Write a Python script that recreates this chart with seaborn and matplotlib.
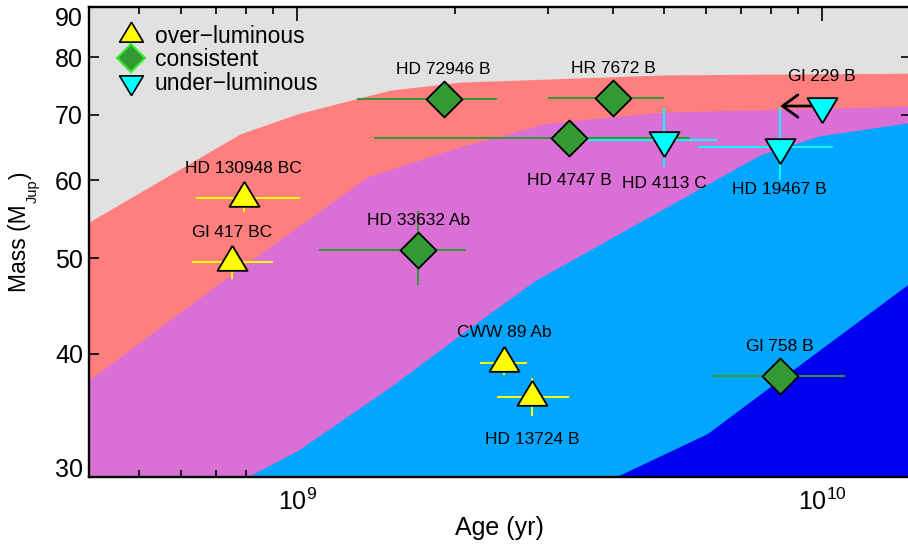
import numpy as np
import pandas as pd
import matplotlib
matplotlib.use("Agg")
import matplotlib.pyplot as plt
import seaborn as sns
from matplotlib.lines import Line2D
from matplotlib.transforms import IdentityTransform
from matplotlib.ticker import FixedLocator, NullLocator, NullFormatter, LogLocator, FixedFormatter

# ---------------- data ----------------
# region boundaries (age in yr, mass in M_Jup)
gray_red_age = [4.0e8, 7.78e8, 1.0e9, 1.5e9, 2.04e9, 5.07e9, 1.5e10]
gray_red_mass = [54.4, 66.9, 70.1, 74.1, 75.5, 76.8, 77.1]
red_violet_age = [4.0e8, 7.45e8, 1.36e9, 2.04e9, 2.99e9, 4.98e9, 1.5e10]
red_violet_mass = [37.6, 48.1, 60.5, 64.9, 68.6, 70.4, 71.4]
violet_blue_age = [8.03e8, 1.0e9, 1.5e9, 2.04e9, 2.84e9, 7.62e9, 9.9e9, 1.5e10]
violet_blue_mass = [30.0, 31.9, 37.0, 41.8, 47.5, 63.7, 66.6, 68.8]
blue_dark_age = [4.04e9, 6.04e9, 8.43e9, 1.5e10]
blue_dark_mass = [30.0, 33.2, 37.9, 47.6]

# over-luminous objects
over_names = ["HD 130948 BC", "Gl 417 BC", "CWW 89 Ab", "HD 13724 B"]
over_age = [7.9e8, 7.5e8, 2.48e9, 2.80e9]
over_age_lo = [6.4e8, 6.3e8, 2.23e9, 2.40e9]
over_age_hi = [1.01e9, 9.0e8, 2.74e9, 3.30e9]
over_mass = [57.6, 49.6, 39.2, 36.2]
over_mass_err = [1.9, 1.9, 1.1, 1.6]

# consistent objects
cons_names = ["HD 72946 B", "HR 7672 B", "HD 4747 B", "HD 33632 Ab", "Gl 758 B"]
cons_age = [1.90e9, 4.0e9, 3.3e9, 1.70e9, 8.3e9]
cons_age_lo = [1.30e9, 3.0e9, 1.40e9, 1.10e9, 6.2e9]
cons_age_hi = [2.40e9, 5.0e9, 5.6e9, 2.10e9, 1.107e10]
cons_mass = [72.6, 72.7, 66.3, 51.0, 38.0]
cons_mass_lo = [71.6, 71.9, 65.5, 47.0, 37.2]
cons_mass_hi = [73.6, 73.5, 67.1, 55.9, 38.8]

# under-luminous objects
under_names = ["HD 4113 C", "HD 19467 B", "Gl 229 B"]
under_age = [5.0e9, 8.3e9, 1.0e10]
under_age_lo = [3.31e9, 5.8e9, 1.0e10]
under_age_hi = [6.3e9, 1.05e10, 1.0e10]
under_mass = [65.9, 64.9, 71.4]
under_mass_lo = [61.9, 60.1, 71.4]
under_mass_hi = [71.1, 71.1, 71.4]
upper_limit_age = 8.32e9   # arrow tip for Gl 229 B

y_ticks = [30, 40, 50, 60, 70, 80, 90]

# ---------------- style ----------------
sns.set_theme(style="ticks")
plt.rcParams["font.family"] = ["Liberation Sans", "DejaVu Sans"]
plt.rcParams["mathtext.fontset"] = "custom"
plt.rcParams["mathtext.rm"] = "Liberation Sans"
plt.rcParams["mathtext.it"] = "Liberation Sans:italic"
plt.rcParams["mathtext.bf"] = "Liberation Sans:bold"
plt.rcParams["text.color"] = "black"
plt.rcParams["axes.labelcolor"] = "black"
plt.rcParams["xtick.color"] = "black"
plt.rcParams["ytick.color"] = "black"

c_gray = "#e1e1e1"
c_red = "#ff7f7f"
c_violet = "#da70d6"
c_lblue = "#00a6ff"
c_dblue = "#0000f0"
c_yellow = "#ffff00"
c_green = "#339933"
c_cyan = "#00ffff"

up_tri = [(0, 1), (-0.9, -0.5), (0.9, -0.5), (0, 1)]
down_tri = [(0, -1), (-0.9, 0.5), (0.9, 0.5), (0, -1)]

fig = plt.figure(figsize=(9.08, 5.44), dpi=100)
ax = fig.add_axes([88.5 / 908, 67 / 544, (911 - 88.5) / 908, 470 / 544])
ax.set_facecolor(c_gray)
ax.set_xscale("log")
ax.set_yscale("log")
ax.set_axisbelow(False)

# regions
ax.fill_between(gray_red_age, gray_red_mass, 30, color=c_red, lw=0, zorder=1)
ax.fill_between(red_violet_age, red_violet_mass, 30, color=c_violet, lw=0, zorder=2)
ax.fill_between(violet_blue_age, violet_blue_mass, 30, color=c_lblue, lw=0, zorder=3)
ax.fill_between(blue_dark_age, blue_dark_mass, 30, color=c_dblue, lw=0, zorder=4)

# error bars
def err(v, lo, hi):
    v, lo, hi = map(np.asarray, (v, lo, hi))
    return [v - lo, hi - v]

oe = np.asarray(over_mass_err)
ax.errorbar(over_age, over_mass, xerr=err(over_age, over_age_lo, over_age_hi),
            yerr=[oe, oe], fmt="none", ecolor=c_yellow, elinewidth=1.4, capsize=0, zorder=6)
ax.errorbar(cons_age, cons_mass, xerr=err(cons_age, cons_age_lo, cons_age_hi),
            yerr=err(cons_mass, cons_mass_lo, cons_mass_hi), fmt="none",
            ecolor=c_green, elinewidth=1.4, capsize=0, zorder=6)
ax.errorbar(under_age[:2], under_mass[:2],
            xerr=err(under_age[:2], under_age_lo[:2], under_age_hi[:2]),
            yerr=err(under_mass[:2], under_mass_lo[:2], under_mass_hi[:2]), fmt="none",
            ecolor=c_cyan, elinewidth=1.4, capsize=0, zorder=6)

# upper-limit arrow for Gl 229 B
ax.annotate("", xy=(upper_limit_age, under_mass[2]), xytext=(under_age[2], under_mass[2]),
            arrowprops=dict(arrowstyle="->,head_length=0.55,head_width=0.4", lw=2.0,
                            color="black", shrinkA=0, shrinkB=0, mutation_scale=20),
            zorder=7)

# markers
df_over = pd.DataFrame({"age": over_age, "mass": over_mass})
df_cons = pd.DataFrame({"age": cons_age, "mass": cons_mass})
df_under = pd.DataFrame({"age": under_age, "mass": under_mass})
sns.scatterplot(data=df_over, x="age", y="mass", marker=up_tri, s=24 ** 2, color=c_yellow,
                edgecolor="black", linewidth=1.3, ax=ax, zorder=10, legend=False)
sns.scatterplot(data=df_cons, x="age", y="mass", marker="D", s=18.3 ** 2, color=c_green,
                edgecolor="black", linewidth=1.3, ax=ax, zorder=10, legend=False)
sns.scatterplot(data=df_under, x="age", y="mass", marker=down_tri, s=24 ** 2, color=c_cyan,
                edgecolor="black", linewidth=1.3, ax=ax, zorder=10, legend=False)

# labels
below = {"HD 13724 B", "HD 4747 B", "HD 4113 C", "HD 19467 B"}
for names, ages, masses in [(over_names, over_age, over_mass),
                            (cons_names, cons_age, cons_mass),
                            (under_names, under_age, under_mass)]:
    for n, a, m in zip(names, ages, masses):
        dy = -31 if n in below else 21.5
        ax.annotate(n, (a, m), xytext=(0, dy), textcoords="offset points",
                    ha="center", va="center", fontsize=12.5, color="black", zorder=11)

# axes
ax.set_xlim(4.0e8, 1.477e10)
ax.set_ylim(30, 90)
ax.yaxis.set_major_locator(FixedLocator(y_ticks))
ax.yaxis.set_major_formatter(FixedFormatter([str(t) for t in y_ticks]))
ax.yaxis.set_minor_locator(NullLocator())
ax.xaxis.set_major_locator(LogLocator(base=10))
ax.xaxis.set_major_formatter(matplotlib.ticker.FuncFormatter(
    lambda v, p: r"$10^{%d}$" % round(np.log10(v))))
ax.xaxis.set_minor_locator(LogLocator(base=10, subs=np.arange(2, 10)))
ax.xaxis.set_minor_formatter(NullFormatter())
ax.tick_params(axis="both", which="both", direction="in", top=True, right=True,
               colors="black", labelcolor="black", width=1.2, labelsize=18)
ax.tick_params(axis="x", which="major", length=10, pad=8)
ax.tick_params(axis="x", which="minor", length=5)
ax.tick_params(axis="y", which="major", length=7, pad=4)
for s in ax.spines.values():
    s.set_linewidth(1.7)
    s.set_color("black")
    s.set_zorder(12)

ax.set_xlabel("Age (yr)", fontsize=18, labelpad=1, color="black")
ax.set_ylabel("")

# legend
handles = [
    Line2D([], [], marker=up_tri, ls="none", ms=19, mfc=c_yellow, mec="black", mew=1.2),
    Line2D([], [], marker="D", ls="none", ms=14, mfc=c_green, mec="#33ee33", mew=1.5),
    Line2D([], [], marker=down_tri, ls="none", ms=19, mfc=c_cyan, mec="black", mew=1.2),
]
labels = ["over\u2212luminous", "consistent", "under\u2212luminous"]
leg = ax.legend(handles, labels, loc="upper left", bbox_to_anchor=(0.0235, 0.982),
                borderaxespad=0, frameon=False, fontsize=16.5, handlelength=1.2,
                handletextpad=0.45, labelspacing=0.02, labelcolor="black")
leg.set_zorder(13)

# y-axis label built from pieces (rotated), with a small subscript
H = 544
ident = IdentityTransform()
t1 = fig.text(20, H - 292, "Mass (M", rotation=90, ha="center", va="bottom",
              fontsize=16.5, color="black", transform=ident)
fig.canvas.draw()
top1 = t1.get_window_extent().y1
t2 = fig.text(33, top1 + 1, "Jup", rotation=90, ha="center", va="bottom",
              fontsize=10.5, color="black", transform=ident)
fig.canvas.draw()
top2 = t2.get_window_extent().y1
fig.text(20, top2 + 1, ")", rotation=90, ha="center", va="bottom",
         fontsize=16.5, color="black", transform=ident)

# keep end tick labels inside the axis range, like the reference
fig.canvas.draw()
ylabels = ax.get_yticklabels()
ylabels[-1].set_va("top")
ylabels[0].set_va("baseline")

fig.savefig("out.png", dpi=100)
